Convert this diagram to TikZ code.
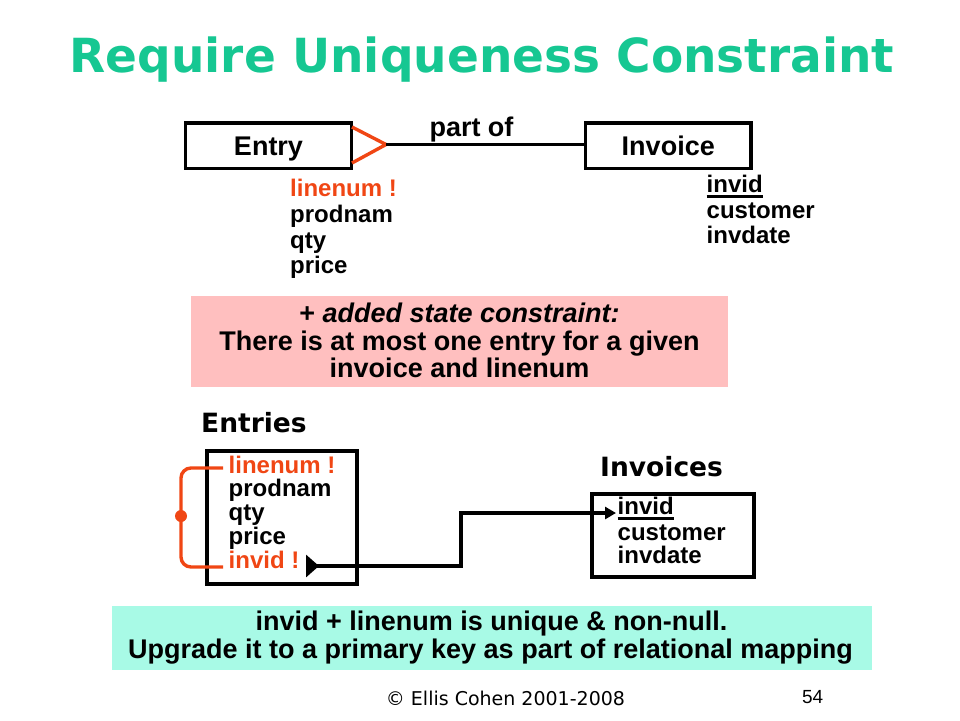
\documentclass[tikz,border=0pt]{standalone}
\usepackage{fontspec}
\setmainfont{Liberation Sans}
\newfontfamily\vfont{DejaVu Sans}
\usetikzlibrary{arrows.meta,calc}
\definecolor{titlegreen}{RGB}{22,199,146}
\definecolor{keyred}{RGB}{240,70,20}
\definecolor{pinkbg}{RGB}{255,191,191}
\definecolor{mintbg}{RGB}{168,250,230}
\newcommand\myul[1]{\setbox0\hbox{#1}\rlap{\rule[-5pt]{\wd0}{2.2pt}}\box0}
\tikzset{
  ent/.style={draw=black,line width=3.6pt,minimum width=166pt,minimum height=45.5pt,
    font=\fontsize{27}{30}\selectfont\bfseries,text height=19.3pt,text depth=0pt,inner sep=0pt},
  attr/.style={anchor=base west,inner sep=0pt,font=\fontsize{24}{26}\selectfont\bfseries},
  keyattr/.style={attr,text=keyred},
  tbl/.style={draw=black,line width=3.6pt,inner sep=0pt},
  note/.style={inner sep=0pt,font=\fontsize{27}{30}\selectfont\bfseries,anchor=base,align=center},
  vlabel/.style={anchor=base west,inner sep=0pt,font=\vfont\fontsize{26.5}{30}\selectfont\bfseries},
  conn/.style={line width=3.2pt,black}
}
\begin{document}
\begin{tikzpicture}[x=1pt,y=-1pt]
\useasboundingbox (0,0) rectangle (960,720);
% title
\node[anchor=base,inner sep=0pt,text=titlegreen,font=\vfont\fontsize{47}{52}\selectfont\bfseries] (title) at (482,72) {Require Uniqueness Constraint};
% ER diagram
\node[ent] (entry) at (268.5,145.75) {Entry};
\node[ent,minimum width=165.5pt] (invoice) at (668.25,145.75) {Invoice};
\coordinate (crow) at (386,144.5);
\draw[keyred,line width=3.4pt,line join=miter] (352,127) -- (crow) -- (352,163);
\draw[conn] (crow) -- (crow -| invoice.west);
\node[anchor=base,inner sep=0pt,font=\fontsize{27}{30}\selectfont\bfseries] (partof) at (471.5,136) {part of};
% entry attributes
\node[keyattr] (ea1) at (290,196) {linenum !};
\node[attr] (ea2) at (290,222) {prodnam};
\node[attr] (ea3) at (290,248) {qty};
\node[attr] (ea4) at (290,273.5) {price};
% invoice attributes
\node[attr] (ia1) at (706.5,192.5) {\myul{invid}};
\node[attr] (ia2) at (706.5,218) {customer};
\node[attr] (ia3) at (706.5,243.7) {invdate};
% pink note
\fill[pinkbg] (191,296) rectangle (728,387);
\node[note] (pn1) at (459.5,322) {+ \textit{added state constraint:}};
\node[note] (pn2) at (459.5,350) {There is at most one entry for a given};
\node[note] (pn3) at (459.5,377.5) {invoice and linenum};
% relational tables
\node[vlabel] (entrieslbl) at (201,432) {Entries};
\node[vlabel] (invoiceslbl) at (600,476) {Invoices};
\node[tbl,minimum width=150pt,minimum height=133.3pt] (entriesbox) at (281.7,517.35) {};
\node[tbl,minimum width=162pt,minimum height=83pt] (invoicesbox) at (672.7,535.5) {};
\node[keyattr] (ra1) at (228.5,473) {linenum !};
\node[attr] (ra2) at (228.5,496.7) {prodnam};
\node[attr] (ra3) at (228.5,520.4) {qty};
\node[attr] (ra4) at (228.5,544) {price};
\node[keyattr] (ra5) at (228.5,568) {invid !};
\node[attr] (rb1) at (617.5,514.5) {\myul{invid}};
\node[attr] (rb2) at (617.5,540) {customer};
\node[attr] (rb3) at (617.5,563.5) {invdate};
% key bracket
\coordinate (bt) at (223,468);
\coordinate (bb) at (223,567);
\coordinate (bdot) at (181,516);
\draw[keyred,line width=3.4pt,rounded corners=10pt] (bt) -| (bdot) |- (bb);
\fill[keyred] (bdot) circle (6pt);
% foreign key connector
\coordinate (fkstart) at (306,566);
\coordinate (fkend) at (616,513);
\draw[conn,{Triangle[reversed,length=13pt,width=22pt]}-{Triangle[length=11pt,width=12pt]}]
  (fkstart) -| ($(fkstart)!0.5!(fkend)$) |- (fkend);
% mint note
\fill[mintbg] (112,606) rectangle (871.7,669.7);
\node[note] (mn1) at (491.5,630.7) {invid + linenum is unique \& non-null.};
\node[note] (mn2) at (490.5,658.3) {Upgrade it to a primary key as part of relational mapping};
% footer
\node[anchor=base,inner sep=0pt,font=\vfont\fontsize{19}{22}\selectfont] (copy) at (505.5,705) {\textcopyright{} Ellis Cohen 2001-2008};
\node[anchor=base,inner sep=0pt,font=\fontsize{19}{22}\selectfont] (pagenum) at (812.7,703.3) {54};
\end{tikzpicture}
\end{document}
